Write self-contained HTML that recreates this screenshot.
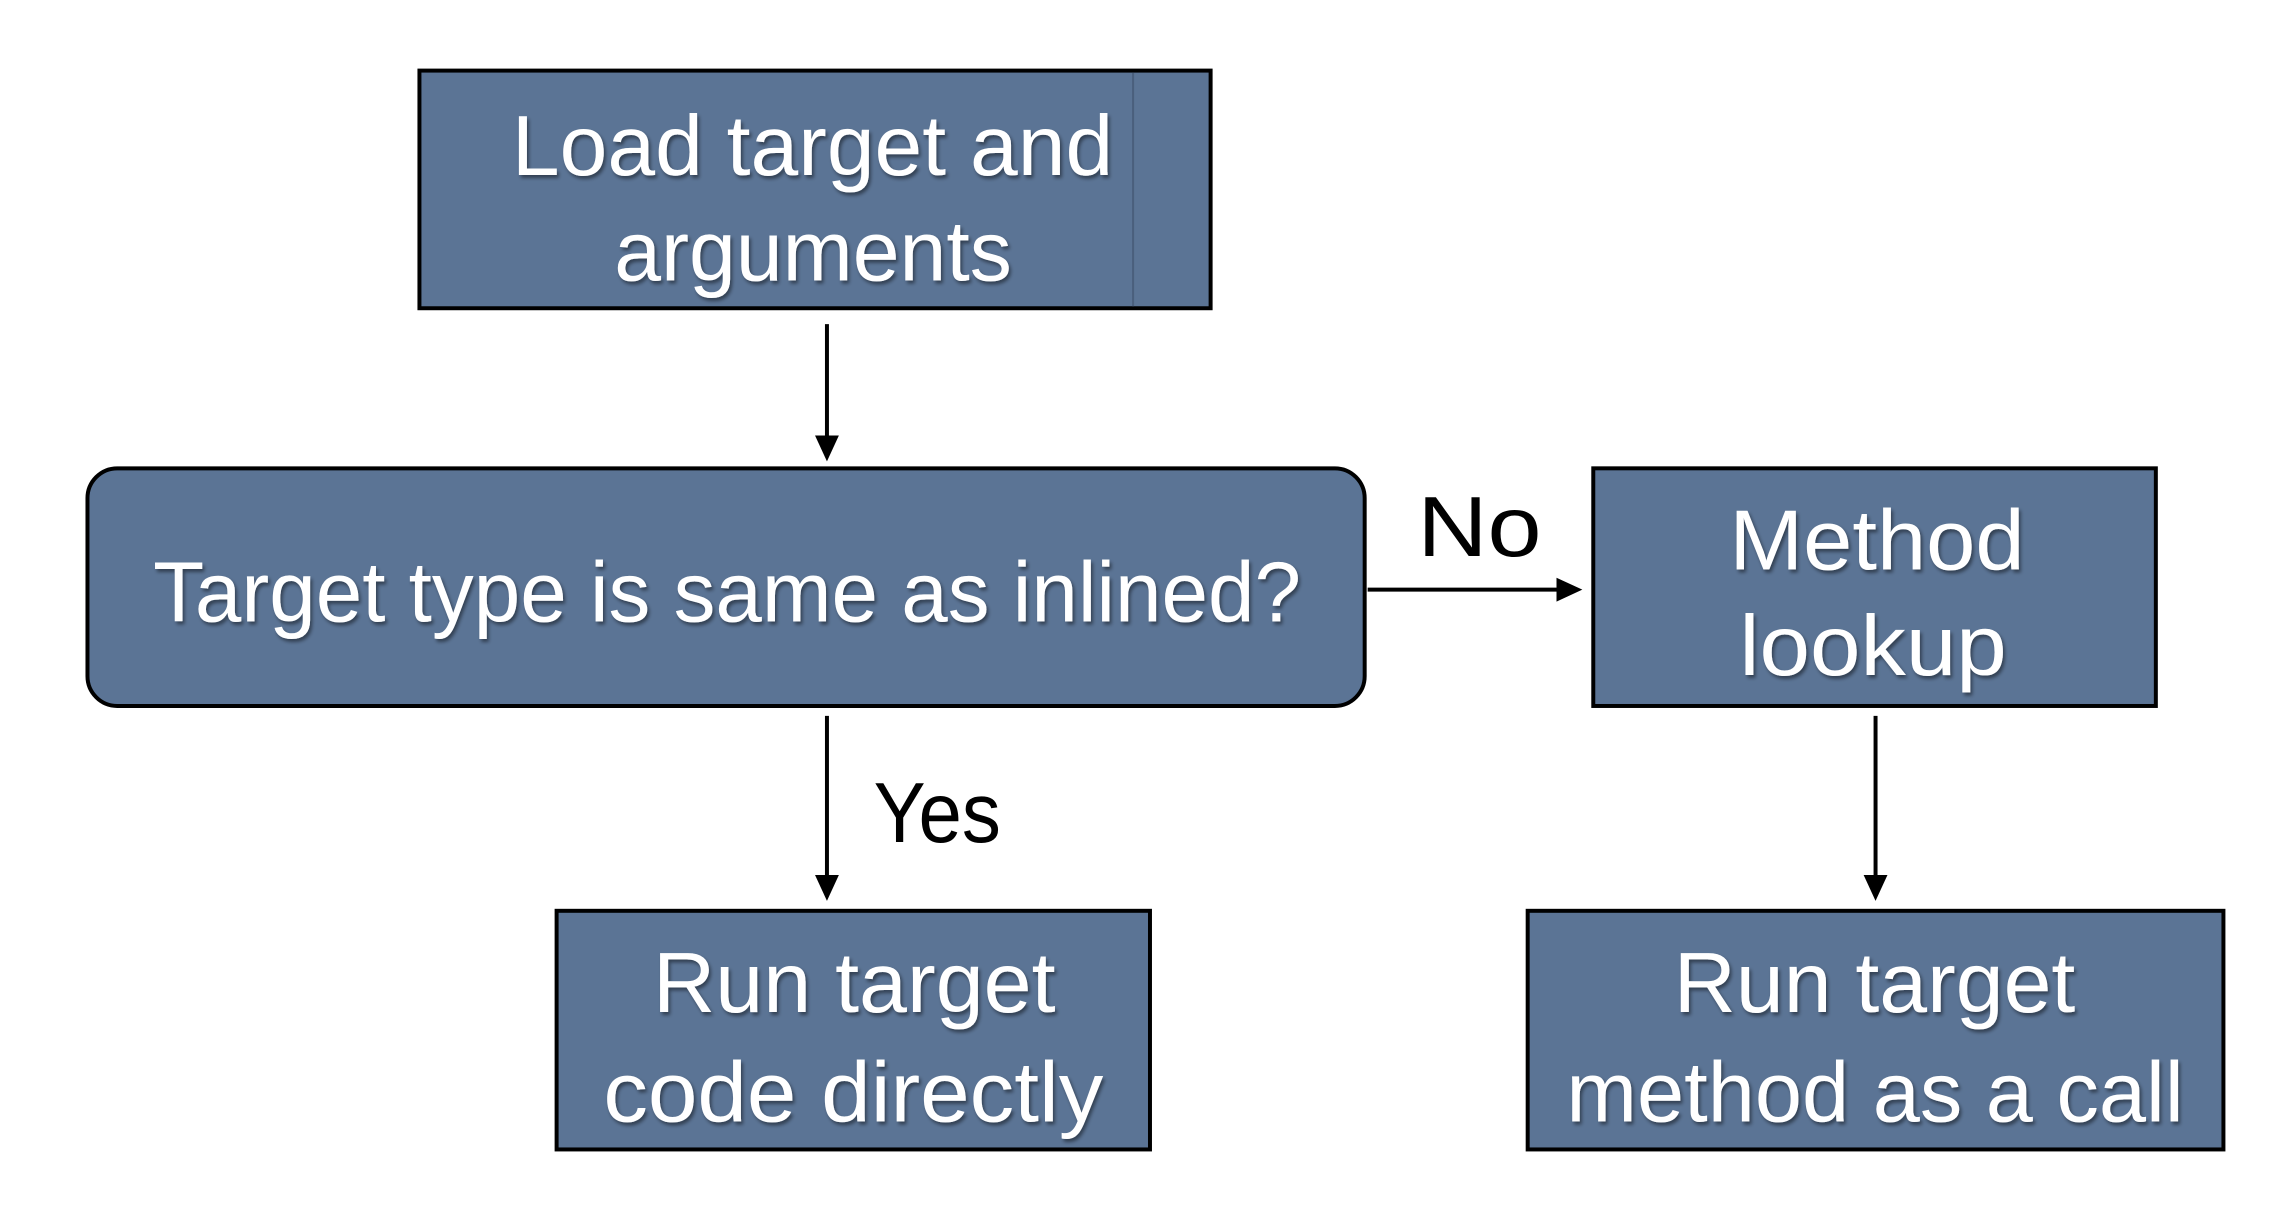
<!DOCTYPE html>
<html><head><meta charset="utf-8"><style>
html,body{margin:0;padding:0;background:#fff;}
svg{display:block}
text{font-family:"Liberation Sans",sans-serif;font-size:86px;}
.w{fill:#fff;text-anchor:start}
.b{fill:#000;text-anchor:start}
</style></head><body>
<svg width="2294" height="1228" viewBox="0 0 2308 1235" preserveAspectRatio="none">
<defs>
<filter id="sh"><feDropShadow dx="2" dy="3" stdDeviation="2" flood-color="#000" flood-opacity="0.45"/></filter>
</defs>
<g fill="#5b7495" stroke="#000" stroke-width="4">
<rect x="422" y="71" width="796" height="239"/>
<rect x="88" y="471" width="1285" height="239" rx="30"/>
<rect x="1603" y="471" width="566" height="239"/>
<rect x="560" y="916" width="597" height="240"/>
<rect x="1537" y="916" width="700" height="240"/>
</g>
<line x1="1140" y1="73" x2="1140" y2="308" stroke="#4a5f7c" stroke-width="2"/>
<g stroke="#000" stroke-width="4" fill="none">
<line x1="832" y1="326" x2="832" y2="450"/>
<line x1="1376" y1="593" x2="1578" y2="593"/>
<line x1="832" y1="720" x2="832" y2="892"/>
<line x1="1887" y1="720" x2="1887" y2="892"/>
</g>
<g fill="#000">
<polygon points="820,438 844,438 832,464"/>
<polygon points="1566,581 1566,605 1592,593"/>
<polygon points="820,880 844,880 832,906"/>
<polygon points="1875,880 1899,880 1887,906"/>
</g>
<g class="w" filter="url(#sh)">
<text x="515" y="176" textLength="605" lengthAdjust="spacingAndGlyphs">Load target and</text>
<text x="618" y="282" textLength="400" lengthAdjust="spacingAndGlyphs">arguments</text>
<text x="154" y="625" textLength="1155" lengthAdjust="spacingAndGlyphs">Target type is same as inlined?</text>
<text x="1740" y="573" textLength="297" lengthAdjust="spacingAndGlyphs">Method</text>
<text x="1750" y="679" textLength="269" lengthAdjust="spacingAndGlyphs">lookup</text>
<text x="657" y="1018" textLength="405" lengthAdjust="spacingAndGlyphs">Run target</text>
<text x="607" y="1128" textLength="503" lengthAdjust="spacingAndGlyphs">code directly</text>
<text x="1684" y="1018" textLength="404" lengthAdjust="spacingAndGlyphs">Run target</text>
<text x="1576" y="1128" textLength="621" lengthAdjust="spacingAndGlyphs">method as a call</text>
</g>
<text class="b" x="1426" y="559" textLength="125" lengthAdjust="spacingAndGlyphs">No</text>
<text class="b" x="879" y="847" textLength="128" lengthAdjust="spacingAndGlyphs">Yes</text>
</svg>
</body></html>
